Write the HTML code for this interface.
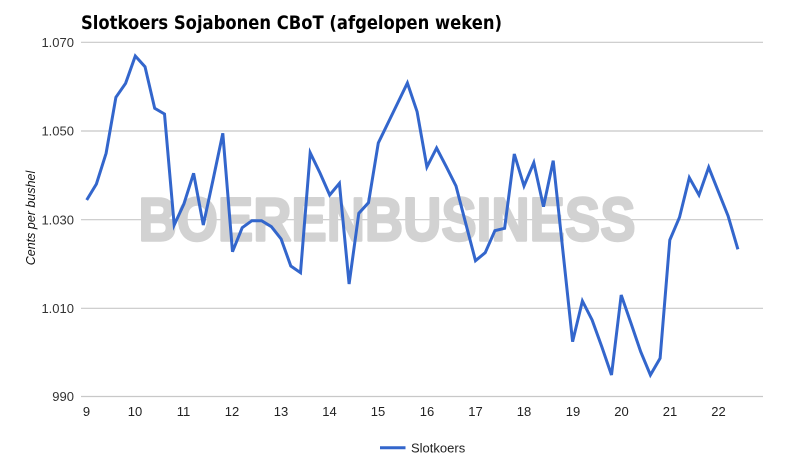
<!DOCTYPE html>
<html><head><meta charset="utf-8"><style>
html,body{margin:0;padding:0;background:#fff;}
svg{display:block;}
</style></head><body>
<svg width="793" height="471" viewBox="0 0 793 471" xmlns="http://www.w3.org/2000/svg">
<rect width="793" height="471" fill="#fff"/>
<text x="81" y="29" font-family="DejaVu Sans, sans-serif" font-weight="bold" font-size="19" fill="#000" textLength="421" lengthAdjust="spacingAndGlyphs">Slotkoers Sojabonen CBoT (afgelopen weken)</text>
<g stroke="#c8c8c8" stroke-width="1.2">
<line x1="81" y1="42.3" x2="763" y2="42.3"/>
<line x1="81" y1="131" x2="763" y2="131"/>
<line x1="81" y1="219.7" x2="763" y2="219.7"/>
<line x1="81" y1="308.3" x2="763" y2="308.3"/>
<line x1="81" y1="396.5" x2="763" y2="396.5"/>
</g>
<text x="387" y="240.5" text-anchor="middle" font-family="Liberation Sans, sans-serif" font-weight="bold" font-size="61" fill="#d2d2d2" stroke="#d2d2d2" stroke-width="2.4" stroke-linejoin="round" textLength="497" lengthAdjust="spacingAndGlyphs">BOERENBUSINESS</text>
<g font-family="Liberation Sans, sans-serif" font-size="13" fill="#333" text-anchor="end">
<text x="74" y="47">1.070</text>
<text x="74" y="135.7">1.050</text>
<text x="74" y="224.4">1.030</text>
<text x="74" y="313">1.010</text>
<text x="74" y="401.2">990</text>
</g>
<text transform="translate(35,218) rotate(-90)" text-anchor="middle" font-family="Liberation Sans, sans-serif" font-style="italic" font-size="12.5" fill="#111">Cents per bushel</text>
<g font-family="Liberation Sans, sans-serif" font-size="13" fill="#222" text-anchor="middle">
<text x="86.5" y="416">9</text>
<text x="135" y="416">10</text>
<text x="183.5" y="416">11</text>
<text x="232" y="416">12</text>
<text x="281" y="416">13</text>
<text x="329.5" y="416">14</text>
<text x="378" y="416">15</text>
<text x="427" y="416">16</text>
<text x="475.5" y="416">17</text>
<text x="524" y="416">18</text>
<text x="573" y="416">19</text>
<text x="621.5" y="416">20</text>
<text x="670" y="416">21</text>
<text x="718.5" y="416">22</text>
</g>
<polyline fill="none" stroke="#3366cc" stroke-width="3" stroke-linejoin="miter" points="
86.7,200 96.4,184 106.1,153.3 115.9,97.3 125.6,83.3 135.3,56 145,66.7 154.7,108.3 164.5,114 174.2,225
183.9,204 193.6,173.3 203.3,225 213,180 222.8,133.3 232.5,251.7 242.2,227.7 251.9,220.7 261.6,220.7 271.4,226.7
281.1,239 290.8,266 300.5,272.7 310.2,152.7 320,173 329.7,195 339.4,183.3 349.1,284 358.8,213.3 368.5,202.7
378.3,143 388,123 397.7,103 407.4,83 417.1,111.7 426.9,167 436.6,148 446.3,166.7 456,186 465.7,223.3
475.5,260.7 485.2,252.7 494.9,230.7 504.6,228.3 514.3,154 524,186 533.8,162.7 543.5,206.7 553.2,160.7 562.9,251
572.6,341.7 582.4,301 592.1,320 601.8,346.7 611.5,375 621.2,295 631,323.3 640.7,351.7 650.4,375 660.1,358.3
669.8,240 679.5,217.3 689.3,177.7 699,195 708.7,167.3 718.4,191.7 728.1,216 737.9,249.3"/>
<line x1="380" y1="447.7" x2="405.5" y2="447.7" stroke="#3366cc" stroke-width="3"/>
<text x="411" y="452.5" font-family="Liberation Sans, sans-serif" font-size="13" fill="#222">Slotkoers</text>
</svg>
</body></html>
